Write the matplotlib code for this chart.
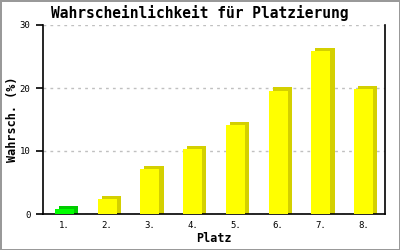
import matplotlib
matplotlib.use("Agg")
import matplotlib.pyplot as plt
import numpy as np

# data
platz = ["1.", "2.", "3.", "4.", "5.", "6.", "7.", "8."]
wahrsch = [0.8, 2.4, 7.1, 10.3, 14.1, 19.6, 25.9, 19.9]
front_colors = ["#00ff00"] + ["#ffff00"] * 7
side_colors = ["#00cc00"] + ["#d4d000"] * 7

fig = plt.figure(figsize=(4, 2.5), dpi=100)
fig.patch.set_facecolor("white")
fig.patch.set_edgecolor("#999999")
fig.patch.set_linewidth(2)
ax = fig.add_axes([0.1075, 0.144, 0.855, 0.756])

x = np.arange(len(platz))
width = 0.45
dx, dy = 0.094, 0.48  # pseudo 3D depth

ax.bar(x + dx, np.array(wahrsch) + dy, width=width, color=side_colors, zorder=2)
ax.bar(x, wahrsch, width=width, color=front_colors, zorder=3)

ax.set_xlim(-0.5, len(platz) - 0.5)
ax.set_ylim(0, 30)
ax.set_yticks([0, 10, 20, 30])
ax.set_xticks(x)
ax.set_xticklabels(platz)
ax.yaxis.grid(True, color="#c0c0c0", linestyle=(0, (2, 3)), linewidth=1)
ax.set_axisbelow(True)

ax.spines["top"].set_visible(False)
for s in ["left", "bottom", "right"]:
    ax.spines[s].set_linewidth(1.2)
ax.tick_params(axis="y", length=5, width=1.2, labelsize=6.5, pad=4)
ax.tick_params(axis="x", length=0, labelsize=6.5, pad=5)
for lbl in ax.get_xticklabels() + ax.get_yticklabels():
    lbl.set_family("DejaVu Sans Mono")

ax.set_xlabel("Platz", family="DejaVu Sans Mono", fontweight="bold", fontsize=8.5)
ax.set_ylabel("Wahrsch. (%)", family="DejaVu Sans Mono", fontweight="bold", fontsize=8.5)
ax.xaxis.set_label_coords(0.5, -0.127)
ax.yaxis.set_label_coords(-0.09, 0.5)
ax.xaxis.label.set_va("center")
ax.yaxis.label.set_va("center")
fig.text(0.5, 0.948, "Wahrscheinlichkeit für Platzierung", ha="center", va="center",
         family="DejaVu Sans Mono", fontweight="bold", fontsize=10.5)

fig.savefig("out.png", dpi=100, facecolor=fig.get_facecolor(), edgecolor=fig.get_edgecolor())
